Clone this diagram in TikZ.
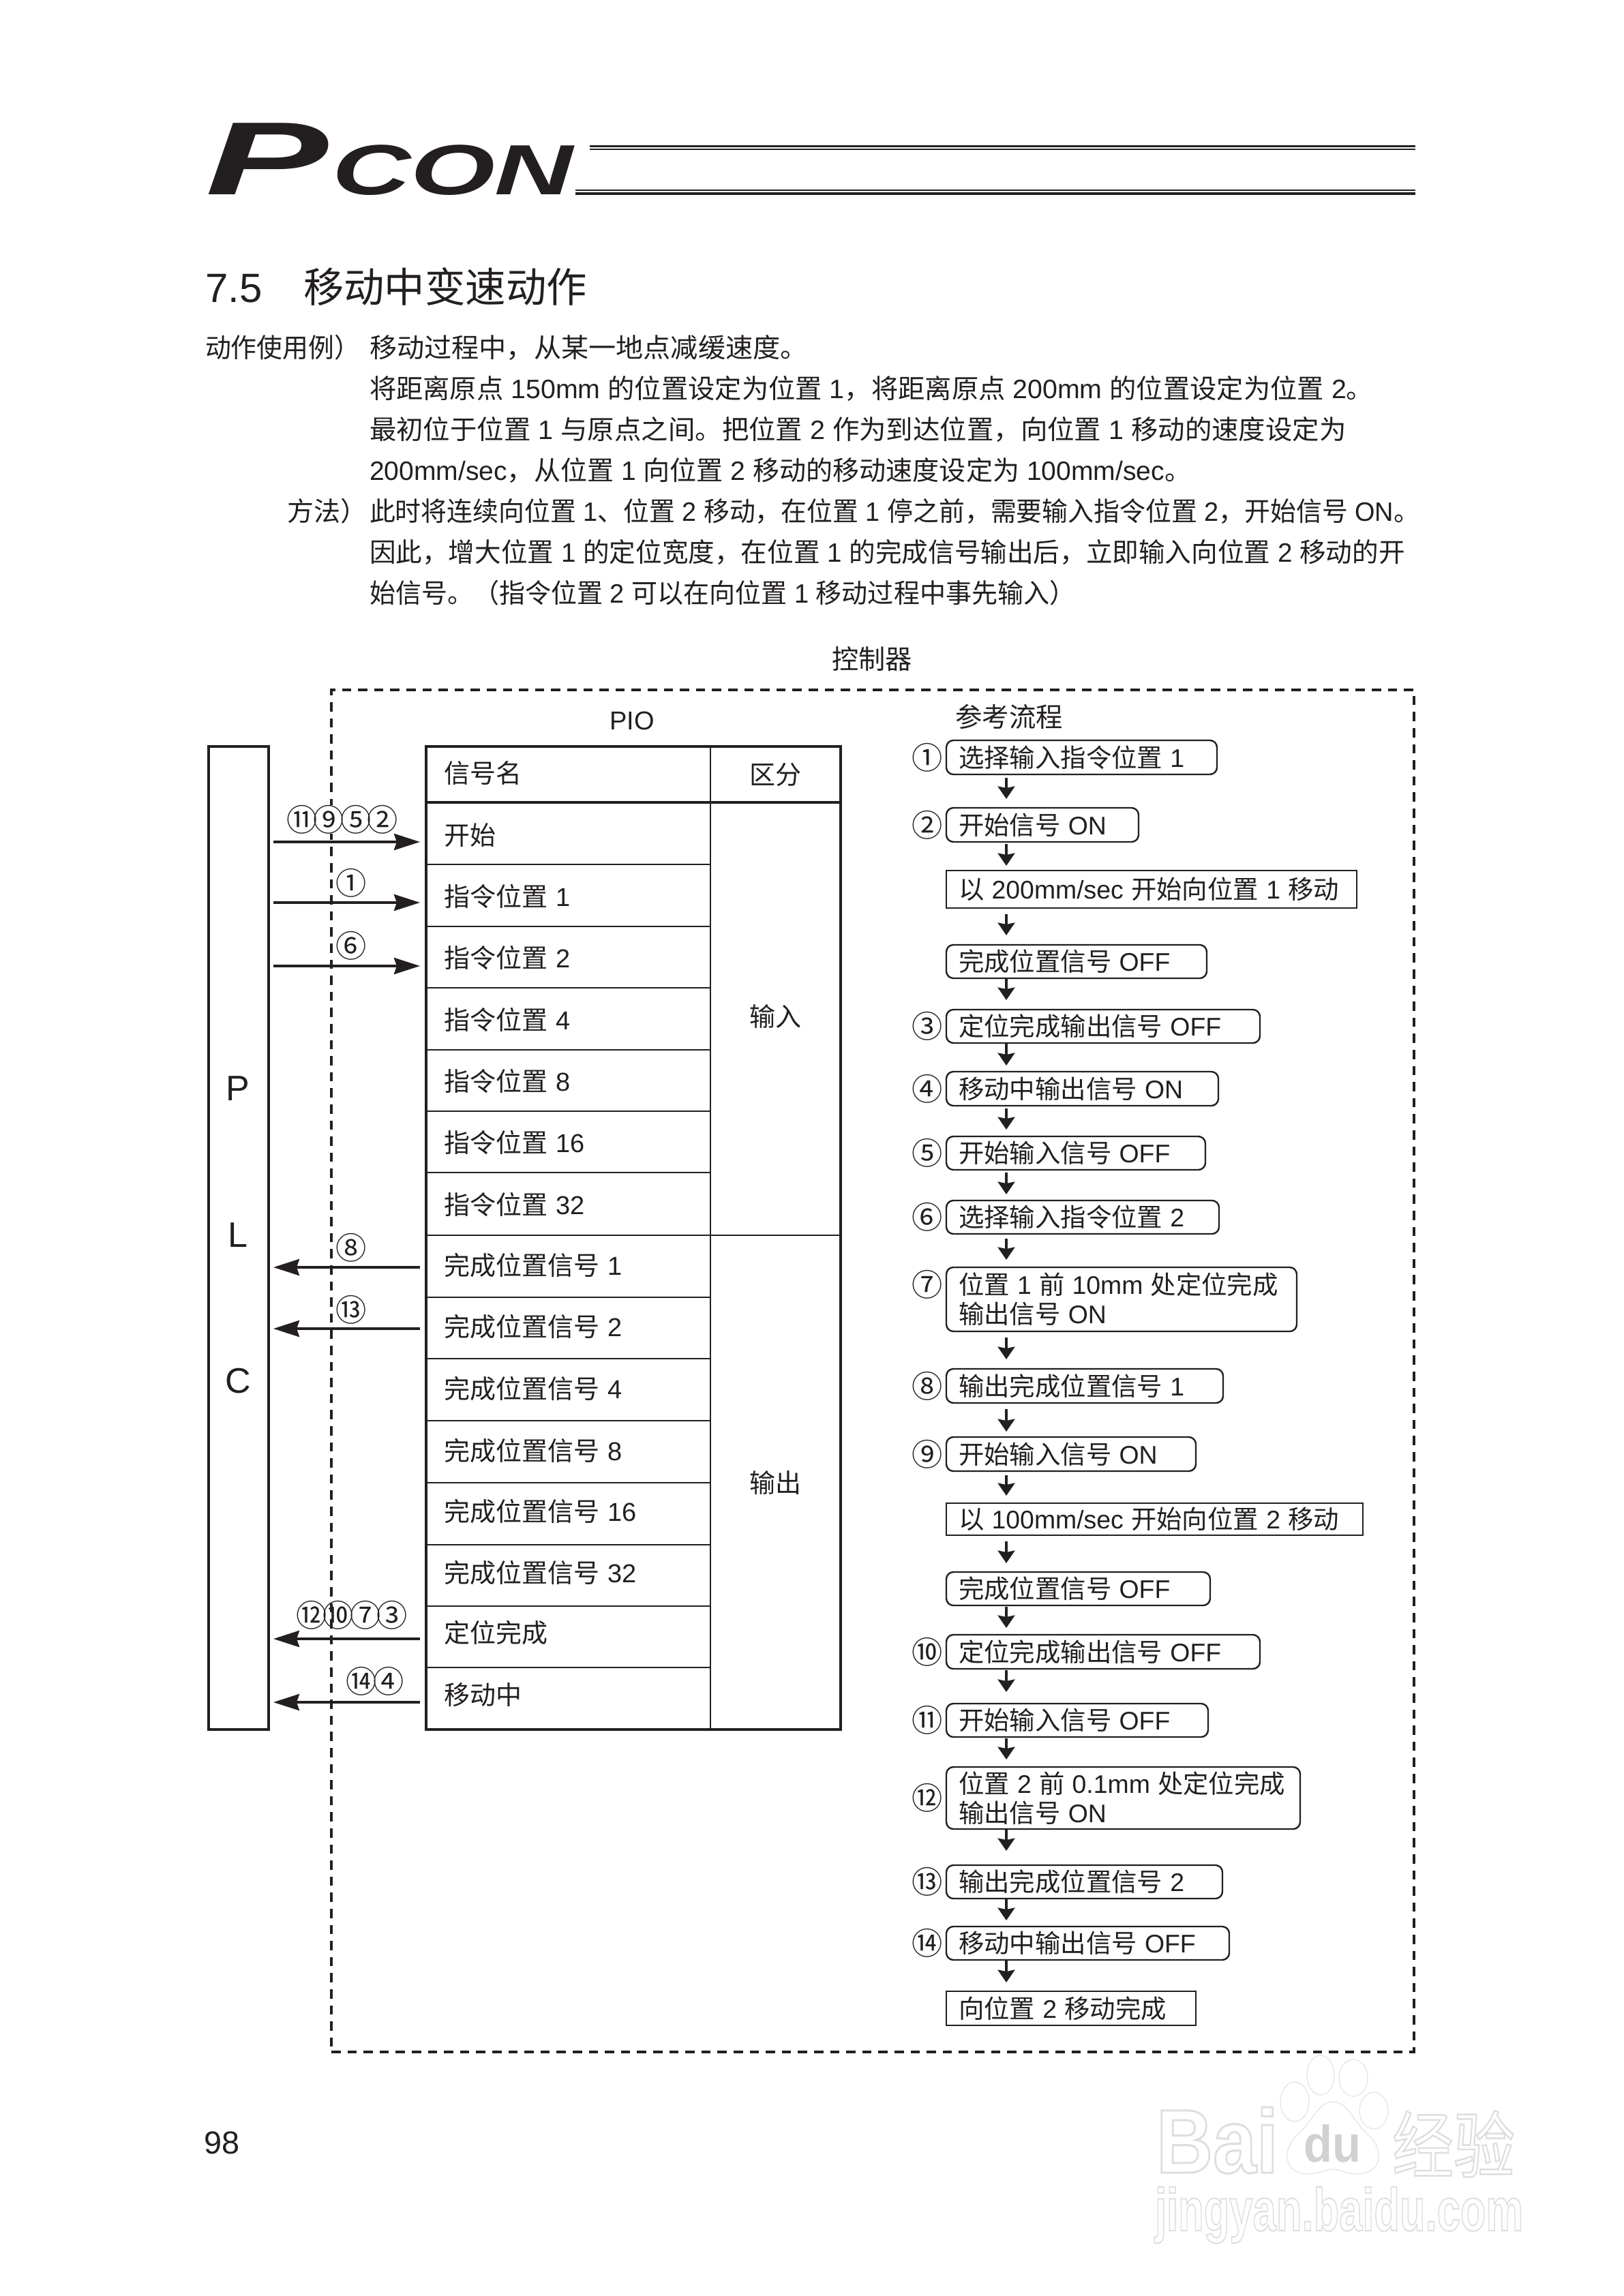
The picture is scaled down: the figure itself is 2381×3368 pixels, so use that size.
\documentclass[tikz,border=0pt]{standalone}
\usepackage{fontspec}
\usepackage{graphicx}
\usetikzlibrary{arrows.meta,calc}
\setmainfont{Liberation Sans}
\newfontfamily\latinf{Liberation Sans}
\newfontfamily\cjkf{Noto Sans CJK SC}
\chardef\cjkcls=7
\newcount\cc
\newcommand\setcls[2]{\cc=#1 \loop\XeTeXcharclass\cc=\cjkcls\ifnum\cc<#2 \advance\cc 1 \repeat}
\setcls{"4E00}{"9FFF}
\setcls{"3000}{"303F}
\setcls{"FF00}{"FFEF}
\setcls{"2460}{"24FF}
\XeTeXinterchartokenstate=1
\XeTeXinterchartoks 0 \cjkcls = {\cjkf}
\XeTeXinterchartoks 4095 \cjkcls = {\cjkf}
\XeTeXinterchartoks \cjkcls 0 = {\latinf}
\XeTeXinterchartoks \cjkcls 4095 = {\latinf}
\definecolor{ink}{HTML}{231F20}
\newcommand\lft[1]{\makebox[0pt][l]{#1}}
\newcommand\setfs[2]{\fontsize{#1}{#2}\selectfont}
\newcommand\qk{\kern-1.45pt}
\newdimen\pxu \pxu=0.25pt
\tikzset{
  x=0.25pt,y=-0.25pt,
  every node/.style={text=ink,inner sep=0pt,outer sep=0pt,font=\setfs{9.5}{10.75}},
  frame/.style={draw=ink,line width=1pt,dash pattern=on 3.4pt off 2.5pt,anchor=north west},
  plcbox/.style={draw=ink,line width=1.1pt,anchor=north west},
  cell/.style={draw=ink,line width=0.6pt,anchor=north west,minimum width=104.25pt,text width=91.25pt,inner xsep=6.5pt,align=left,text height=7.3pt,text depth=1.9pt},
  gcell/.style={draw=ink,line width=0.6pt,anchor=north west,minimum width=47.75pt,align=center},
  outer/.style={draw=ink,line width=1.2pt,anchor=north west},
  flowfont/.style={font=\setfs{9.35}{10.75}},
  rbox/.style={flowfont,draw=ink,line width=0.6pt,rounded corners=2.6pt,anchor=north west,inner xsep=4.5pt,align=left,text height=8.2pt,text depth=1pt},
  rboxtwo/.style={flowfont,draw=ink,line width=0.6pt,rounded corners=2.6pt,anchor=north west,inner xsep=4.5pt,align=left},
  sbox/.style={flowfont,draw=ink,line width=0.6pt,anchor=north west,inner xsep=4.5pt,align=left,text height=8.2pt,text depth=1pt},
  num/.style={font=\setfs{11.3}{13}},
  sig/.style={draw=ink,line width=1pt,-{Stealth[length=9.5pt,width=6pt,inset=1pt]}},
  flowarr/.style={draw=ink,line width=1pt,-{Stealth[length=4.6pt,width=6.2pt,inset=0.6pt]}},
  para/.style={anchor=base west,font=\setfs{9.75}{12}},
  wm/.style={draw=black!11,line width=0.3pt,fill=white},
  wmt/.style={text=black!14},
}
\newcommand\rowc[5]{\node[cell,minimum height={(#3-#2)*0.25pt}] (#1) at (625,#2) {\raisebox{-#4\pxu}{\lft{#5}}};}
\newcommand\fb[6]{\node[#1,minimum width={(#3-1388)*0.25pt},text width={(#3-1388-36)*0.25pt},minimum height={(#5-#4)*0.25pt}] (#2) at (1388,#4) {\spaceskip=2.8pt\relax #6};}
\newcommand\farr[4]{\draw[flowarr,shorten <={#3*0.25pt},shorten >={#4*0.25pt}] (#1.south -| fx) -- (#2.north -| fx);}
\newcommand\stroked[1]{\special{pdf:code 1 Tr 0.22 w}#1\special{pdf:code 0 Tr}}
\begin{document}
\begin{tikzpicture}
\useasboundingbox (0,0) rectangle (2381,3368);
\fill[white] (0,0) rectangle (2381,3368);
% logo
\node[anchor=north west] (logoP) at (301,181) {\resizebox{45pt}{26.2pt}{\bfseries\itshape P}};
\node[anchor=north west] (logoC) at (487,213) {\resizebox{88.5pt}{18.2pt}{\bfseries\itshape CON}};
\fill[ink] (865,213) rectangle (2076,216.5);
\fill[ink] (865,218.5) rectangle (2076,220);
\fill[ink] (844,278) rectangle (2076,280);
\fill[ink] (844,282) rectangle (2076,286);
% heading
\node[anchor=base west,font=\setfs{15}{18}] (h1) at (301,444) {7.5};
\node[anchor=base west,font=\setfs{15}{18}] (h2) at (445,444) {\scalebox{.99}[1]{移动中变速动作}};
% paragraph
\node[para] (l0) at (301,525) {\scalebox{.97}[1]{动作使用例）}};
\node[para] (p1) at (542,525) {\scalebox{1.03}[1]{移动过程中，从某一地点减缓速度。}};
\node[para] (p2) at (542,585) {\scalebox{1.008}[1]{将距离原点 150mm 的位置设定为位置 1，将距离原点 200mm 的位置设定为位置 2。}};
\node[para] (p3) at (542,645) {\scalebox{1.011}[1]{最初位于位置 1 与原点之间。把位置 2 作为到达位置，向位置 1 移动的速度设定为}};
\node[para] (p4) at (542,705) {\scalebox{1.002}[1]{200mm/sec，从位置 1 向位置 2 移动的移动速度设定为 100mm/sec。}};
\node[para] (l1) at (421,765) {方法）};
\node[para] (p5) at (542,765) {\scalebox{.971}[1]{此时将连续向位置 1、位置 2 移动，在位置 1 停之前，需要输入指令位置 2，开始信号 ON。}};
\node[para] (p6) at (542,825) {\scalebox{.99}[1]{因此，增大位置 1 的定位宽度，在位置 1 的完成信号输出后，立即输入向位置 2 移动的开}};
\node[para] (p7) at (542,885) {\scalebox{.975}[1]{始信号。（指令位置 2 可以在向位置 1 移动过程中事先输入）}};
% frame
\node[frame,minimum width={(2074-486)*0.25pt},minimum height={(3010-1012)*0.25pt}] (ctrl) at (486,1012) {};
\node[font=\setfs{9.8}{11}] (ctrlt) at (1279,967) {控制器};
\node (piot) at (927,1057) {PIO};
\node[font=\setfs{9.85}{11}] (flowt) at (1480,1051) {参考流程};
\node (page) at (326,3143) [font=\setfs{11.7}{14}] {98};
% PLC
\node[plcbox,minimum width={(394-306)*0.25pt},minimum height={(2537-1095)*0.25pt}] (plc) at (306,1095) {};
\node[font=\setfs{13}{15}] (plcP) at (349,1597) {P};
\node[font=\setfs{13}{15}] (plcL) at (349,1812) {L};
\node[font=\setfs{13}{15}] (plcC) at (349,2026) {C};
% table
\rowc{hdr}{1095}{1177}{2}{信号名}
\rowc{r1}{1177}{1268}{6}{开始}
\rowc{r2}{1268}{1359}{5}{指令位置 1}
\rowc{r3}{1359}{1449}{5}{指令位置 2}
\rowc{r4}{1449}{1540}{5}{指令位置 4}
\rowc{r5}{1540}{1630}{5}{指令位置 8}
\rowc{r6}{1630}{1720}{5}{指令位置 16}
\rowc{r7}{1720}{1812}{5}{指令位置 32}
\rowc{r8}{1812}{1903}{2}{完成位置信号 1}
\rowc{r9}{1903}{1993}{2}{完成位置信号 2}
\rowc{r10}{1993}{2084}{2}{完成位置信号 4}
\rowc{r11}{2084}{2175}{2}{完成位置信号 8}
\rowc{r12}{2175}{2266}{0}{完成位置信号 16}
\rowc{r13}{2266}{2356}{0}{完成位置信号 32}
\rowc{r14}{2356}{2446}{-2}{定位完成}
\rowc{r15}{2446}{2537}{-2}{移动中}
\node[gcell,minimum height={(1177-1095)*0.25pt}] (gh) at (1042,1095) {区分};
\node[gcell,minimum height={(1812-1177)*0.25pt}] (gi) at (1042,1177) {\raisebox{2.5pt}{输入}};
\node[gcell,minimum height={(2537-1812)*0.25pt}] (go) at (1042,1812) {输出};
\node[outer,minimum width={(1233-625)*0.25pt},minimum height={(2537-1095)*0.25pt}] (tbl) at (625,1095) {};
\draw[ink,line width=1.2pt] (hdr.south west) -- (gh.south east);
% signal arrows
\coordinate (y1) at (0,1235);
\coordinate (y2) at (0,1324);
\coordinate (y3) at (0,1417);
\coordinate (y4) at (0,1859);
\coordinate (y5) at (0,1949);
\coordinate (y6) at (0,2404);
\coordinate (y7) at (0,2497);
\node[num,fill=white] (s1) at (502,1202) {⑪\qk⑨\qk⑤\qk②};
\node[num] (s2) at (515,1295) {①};
\node[num] (s3) at (515,1387) {⑥};
\node[num] (s4) at (515,1830) {⑧};
\node[num] (s5) at (515,1921) {⑬};
\node[num] (s6) at (516,2369) {⑫\qk⑩\qk⑦\qk③};
\node[num] (s7) at (550,2466) {⑭\qk④};
\draw[sig,shorten <=1.75pt,shorten >=2.25pt] (plc.east |- y1) -- (r1.west |- y1);
\draw[sig,shorten <=1.75pt,shorten >=2.25pt] (plc.east |- y2) -- (r2.west |- y2);
\draw[sig,shorten <=1.75pt,shorten >=2.25pt] (plc.east |- y3) -- (r3.west |- y3);
\draw[sig,shorten >=1.75pt,shorten <=2.25pt] (r8.west |- y4) -- (plc.east |- y4);
\draw[sig,shorten >=1.75pt,shorten <=2.25pt] (r9.west |- y5) -- (plc.east |- y5);
\draw[sig,shorten >=1.75pt,shorten <=2.25pt] (r14.west |- y6) -- (plc.east |- y6);
\draw[sig,shorten >=1.75pt,shorten <=2.25pt] (r15.west |- y7) -- (plc.east |- y7);
% flow
\coordinate (fx) at (1476,0);
\fb{rbox}{b1}{1785}{1086}{1136}{\lft{选择输入指令位置 1}}
\fb{rbox}{b2}{1670}{1185}{1235}{\lft{开始信号 ON}}
\fb{sbox}{m1}{1990}{1277}{1332}{\lft{以 200mm/sec 开始向位置 1 移动}}
\fb{rbox}{c1}{1770}{1386}{1435}{\lft{完成位置信号 OFF}}
\fb{rbox}{b3}{1848}{1481}{1530}{\lft{定位完成输出信号 OFF}}
\fb{rbox}{b4}{1787}{1572}{1622}{\lft{移动中输出信号 ON}}
\fb{rbox}{b5}{1768}{1667}{1716}{\lft{开始输入信号 OFF}}
\fb{rbox}{b6}{1788}{1761}{1810}{\lft{选择输入指令位置 2}}
\fb{rboxtwo}{b7}{1902}{1859}{1953}{\lft{位置 1 前 10mm 处定位完成}\\\lft{输出信号 ON}}
\fb{rbox}{b8}{1794}{2008}{2058}{\lft{输出完成位置信号 1}}
\fb{rbox}{b9}{1754}{2108}{2158}{\lft{开始输入信号 ON}}
\fb{sbox}{m2}{1999}{2205}{2252}{\lft{以 100mm/sec 开始向位置 2 移动}}
\fb{rbox}{c2}{1775}{2306}{2355}{\lft{完成位置信号 OFF}}
\fb{rbox}{b10}{1848}{2398}{2448}{\lft{定位完成输出信号 OFF}}
\fb{rbox}{b11}{1772}{2499}{2548}{\lft{开始输入信号 OFF}}
\fb{rboxtwo}{b12}{1907}{2592}{2683}{\lft{位置 2 前 0.1mm 处定位完成}\\\lft{输出信号 ON}}
\fb{rbox}{b13}{1793}{2736}{2785}{\lft{输出完成位置信号 2}}
\fb{rbox}{b14}{1803}{2826}{2875}{\lft{移动中输出信号 OFF}}
\fb{sbox}{e1}{1754}{2921}{2971}{\lft{向位置 2 移动完成}}
\node[num] (n1) at (1360,1111) {①};
\node[num] (n2) at (1360,1210) {②};
\node[num] (n3) at (1360,1505) {③};
\node[num] (n4) at (1360,1597) {④};
\node[num] (n5) at (1360,1691) {⑤};
\node[num] (n6) at (1360,1785) {⑥};
\node[num] (n7) at (1360,1884) {⑦};
\node[num] (n8) at (1360,2033) {⑧};
\node[num] (n9) at (1360,2133) {⑨};
\node[num] (n10) at (1360,2423) {⑩};
\node[num] (n11) at (1360,2523) {⑪};
\node[num] (n12) at (1360,2637) {⑫};
\node[num] (n13) at (1360,2760) {⑬};
\node[num] (n14) at (1360,2850) {⑭};
\farr{b1}{b2}{5}{13}
\farr{b2}{m1}{3}{7}
\farr{m1}{c1}{9}{14}
\farr{c1}{b3}{1}{14}
\farr{b3}{b4}{1}{9}
\farr{b4}{b5}{4}{10}
\farr{b5}{b6}{4}{9}
\farr{b6}{b7}{7}{11}
\farr{b7}{b8}{9}{14}
\farr{b8}{b9}{9}{8}
\farr{b9}{m2}{6}{11}
\farr{m2}{c2}{9}{13}
\farr{c2}{b10}{2}{10}
\farr{b10}{b11}{2}{17}
\farr{b11}{b12}{2}{11}
\farr{b12}{b13}{0}{21}
\farr{b13}{b14}{1}{9}
\farr{b14}{e1}{1}{13}
% watermark
\draw[wm] (1955,3083) .. controls (1975,3083) and (1985,3110) .. (2005,3130) .. controls (2030,3150) and (2030,3189) .. (1990,3189) .. controls (1975,3189) and (1965,3182) .. (1955,3182) .. controls (1945,3182) and (1935,3189) .. (1920,3189) .. controls (1880,3189) and (1880,3150) .. (1905,3130) .. controls (1925,3110) and (1935,3083) .. (1955,3083) -- cycle;
\draw[wm] (1899,3083) ellipse [x radius=21,y radius=29];
\draw[wm] (1937,3044) ellipse [x radius=20,y radius=29];
\draw[wm] (1985,3048) ellipse [x radius=21,y radius=27];
\draw[wm] (2015,3096) ellipse [x radius=21,y radius=27];
\node[wmt,anchor=north west] (wm1) at (1696,3091) {\resizebox{44.7pt}{24pt}{\color{black!13}\stroked{\bfseries Bai}}};
\node[wmt,anchor=north west] (wm2) at (1912,3117) {\resizebox{21pt}{13.7pt}{\color{black!18}\bfseries du}};
\node[wmt,anchor=north west] (wm3) at (2042,3096) {\resizebox{45pt}{22.5pt}{\color{black!13}\stroked{\cjkf 经验}}};
\node[wmt,anchor=north west] (wm4) at (1694,3208) {\resizebox{135pt}{16pt}{\color{black!13}\stroked{\bfseries jingyan.baidu.com}}};
\end{tikzpicture}
\end{document}
